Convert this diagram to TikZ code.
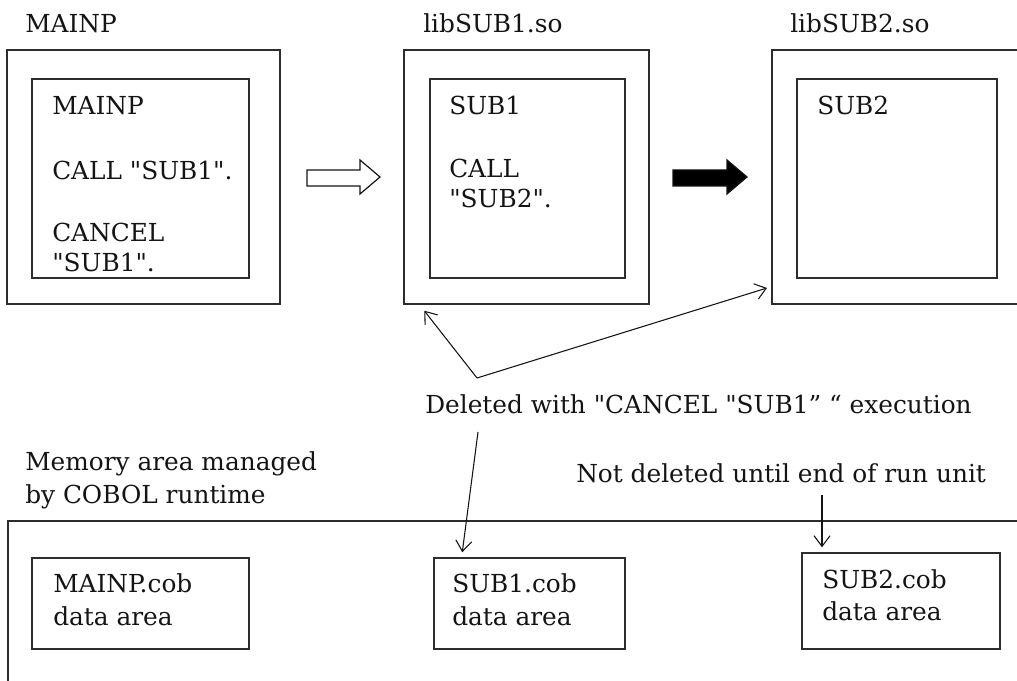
\documentclass[tikz,border=0pt]{standalone}
\usepackage{fontspec}
\setmainfont{DejaVu Serif}[Ligatures=TeXOff]
\usetikzlibrary{arrows.meta,positioning,calc,fit}
\definecolor{inkBlack}{RGB}{20, 20, 20}
\definecolor{frameGray}{RGB}{45, 45, 45}

\tikzset{
  frame/.style={draw=frameGray, line width=1.1pt, inner sep=0pt},
  txt/.style={anchor=base west, inner sep=0pt, text=inkBlack,
    font=\fontsize{18.6pt}{22pt}\selectfont},
  pointer/.style={draw=inkBlack, line width=0.8pt,
    -{Straight Barb[length=8pt,width=12pt,line width=0.8pt]}},
  blockarrow/.style={draw=inkBlack, line width=0.9pt},
}

\begin{document}
\begin{tikzpicture}[x=0.75pt,y=-0.75pt]
\useasboundingbox (0,0) rectangle (1017,681);
\clip (0,0) rectangle (1017,681);

% loaded modules
\node[txt] (mainLbl) at (25,33) {MAINP};
\node[frame, fit={(7,50) (280,304)}] (mainOuter) {};
\node[frame, fit={(32,79) (249,278)}] (mainInner) {};
\node[txt] (mainName) at (52,115) {MAINP};
\node[txt] (mainCall) at (52,180) {CALL "SUB1".};
\node[txt] (mainCancel) at (52,241) {CANCEL};
\node[txt] (mainCancelArg) at (52,271) {"SUB1".};

\node[txt] (lib1Lbl) at (423,33) {libSUB1.so};
\node[frame, fit={(404,50) (649,304)}] (lib1Outer) {};
\node[frame, fit={(430,79) (625,278)}] (lib1Inner) {};
\node[txt] (sub1Name) at (449,115) {SUB1};
\node[txt] (sub1Call) at (449,177) {CALL};
\node[txt] (sub1CallArg) at (449,208) {"SUB2".};

\node[txt] (lib2Lbl) at (790,33) {libSUB2.so};
\node[frame, fit={(772,50) (1040,304)}] (lib2Outer) {};
\node[frame, fit={(797,79) (997,278)}] (lib2Inner) {};
\node[txt] (sub2Name) at (817,115) {SUB2};

% call arrows
\draw[blockarrow, fill=white] (307,170) -- (360,170) -- (360,160) -- (380,177)
  -- (360,194) -- (360,186) -- (307,186) -- cycle;
\draw[blockarrow, fill=black] (673,170) -- (727,170) -- (727,160) -- (747,177)
  -- (727,194) -- (727,186) -- (673,186) -- cycle;

% cancel note
\node[txt] (cancelNote) at (425,413) {Deleted with "CANCEL "SUB1” “ execution};
\coordinate (fork) at (477,378);
\coordinate (lib2Hit) at (767,288);
\draw[pointer] (fork) -- ([shift={(21,6)}]lib1Outer.south west);
\draw[pointer] (fork) -- (lib2Hit);

% runtime memory
\node[txt] (memLbl) at (25,470) {Memory area managed};
\node[txt] (memLbl2) at (25,503) {by COBOL runtime};
\draw[frame] (8,700) |- (1040,521);
\node[txt] (keepNote) at (576,482) {Not deleted until end of run unit};

\node[frame, fit={(32,558) (249,649)}] (mainData) {};
\node[txt] (mainDataName) at (53,592) {MAINP.cob};
\node[txt] (mainDataArea) at (53,625) {data area};

\node[frame, fit={(434,558) (625,649)}] (sub1Data) {};
\node[txt] (sub1DataName) at (452,592) {SUB1.cob};
\node[txt] (sub1DataArea) at (452,625) {data area};

\node[frame, fit={(802,553) (1000,649)}] (sub2Data) {};
\node[txt] (sub2DataName) at (822,588) {SUB2.cob};
\node[txt] (sub2DataArea) at (822,620) {data area};

\coordinate (cancelFoot) at (478,432);
\coordinate (keepFoot) at (822,495);
\draw[pointer] (cancelFoot) -- ([shift={(29,-5)}]sub1Data.north west);
\draw[pointer] (keepFoot) -- ([yshift=3.75pt]keepFoot |- sub2Data.north);
\end{tikzpicture}
\end{document}
